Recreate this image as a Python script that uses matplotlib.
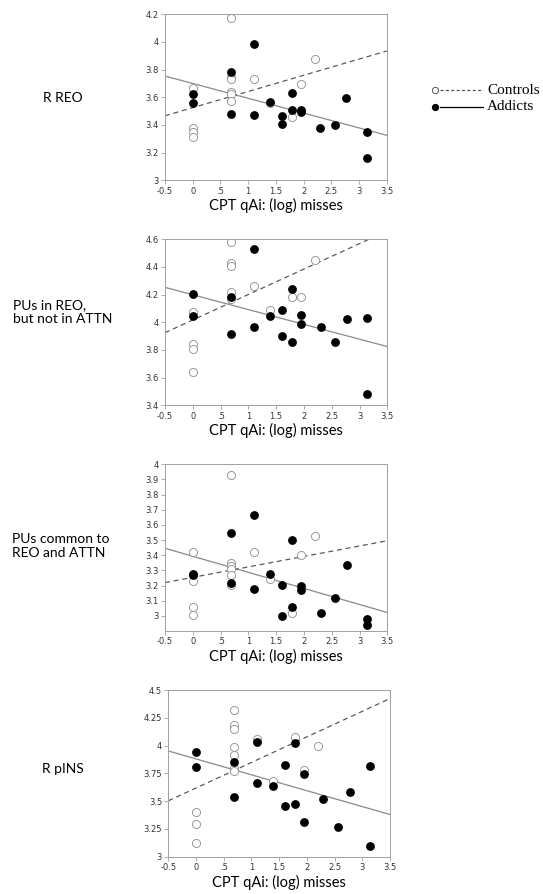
import matplotlib
matplotlib.use("Agg")
import matplotlib.pyplot as plt
from matplotlib.lines import Line2D
import numpy as np

# x values: log number of CPT misses
addicts_x = [0, 0, 0.69, 0.69, 1.10, 1.10, 1.39, 1.61, 1.61, 1.79, 1.79,
             1.95, 1.95, 2.30, 2.56, 2.77, 3.14, 3.14]

# R REO
reo_addicts = [3.627, 3.561, 3.78, 3.48, 3.988, 3.475, 3.566, 3.467, 3.407,
               3.634, 3.508, 3.508, 3.494, 3.378, 3.40, 3.593, 3.347, 3.161]
reo_controls_x = [0, 0, 0, 0, 0.69, 0.69, 0.69, 0.69, 0.69, 0.69,
                  1.10, 1.39, 1.79, 1.95, 2.20]
reo_controls = [3.67, 3.38, 3.35, 3.31, 4.175, 3.745, 3.735, 3.636, 3.625,
                3.576, 3.735, 3.56, 3.46, 3.696, 3.877]

# PUs in REO, but not in ATTN
pu_reo_addicts = [4.202, 4.043, 4.181, 3.916, 4.53, 3.969, 4.048, 4.089, 3.901,
                  4.243, 3.855, 4.053, 3.988, 3.969, 3.855, 4.022, 4.029, 3.482]
pu_reo_controls_x = [0, 0, 0, 0, 0.69, 0.69, 0.69, 0.69, 0.69,
                     1.10, 1.39, 1.79, 1.95, 2.20]
pu_reo_controls = [4.077, 3.843, 3.807, 3.643, 4.583, 4.431, 4.41, 4.217, 4.17,
                   4.263, 4.089, 4.183, 4.183, 4.45]

# PUs common to REO and ATTN
pu_common_addicts = [3.279, 3.27, 3.547, 3.218, 3.664, 3.176, 3.273, 3.204, 2.998,
                     3.499, 3.059, 3.20, 3.169, 3.022, 3.121, 3.334, 2.976, 2.938]
pu_common_controls_x = [0, 0, 0, 0, 0.69, 0.69, 0.69, 0.69, 0.69, 0.69,
                        1.10, 1.39, 1.79, 1.95, 2.20]
pu_common_controls = [3.42, 3.231, 3.059, 3.007, 3.93, 3.347, 3.33, 3.312, 3.268,
                      3.204, 3.42, 3.242, 3.022, 3.402, 3.527]

# R pINS
pins_addicts = [3.943, 3.804, 3.852, 3.536, 4.03, 3.66, 3.636, 3.822, 3.452,
                4.027, 3.47, 3.744, 3.313, 3.521, 3.268, 3.578, 3.813, 3.093]
pins_controls_x = [0, 0, 0, 0.69, 0.69, 0.69, 0.69, 0.69, 0.69, 0.69,
                   1.10, 1.39, 1.79, 1.95, 2.20]
pins_controls = [3.398, 3.295, 3.127, 4.322, 4.181, 4.151, 3.988, 3.913, 3.798,
                 3.768, 4.06, 3.684, 4.078, 3.78, 3.994]

# regression lines: (intercept, slope)
fit_controls = [(3.525, 0.117), (4.017, 0.184), (3.254, 0.069), (3.618, 0.230)]
fit_addicts = [(3.700, -0.107), (4.199, -0.107), (3.393, -0.106), (3.880, -0.143)]

row_labels = ["R REO", "PUs in REO,\nbut not in ATTN",
              "PUs common to\nREO and ATTN", "R pINS"]
y_ticks = [[3, 3.2, 3.4, 3.6, 3.8, 4, 4.2],
           [3.4, 3.6, 3.8, 4, 4.2, 4.4, 4.6],
           [3, 3.1, 3.2, 3.3, 3.4, 3.5, 3.6, 3.7, 3.8, 3.9, 4],
           [3, 3.25, 3.5, 3.75, 4, 4.25, 4.5]]
y_tick_labels = [["3", "3.2", "3.4", "3.6", "3.8", "4", "4.2"],
                 ["3.4", "3.6", "3.8", "4", "4.2", "4.4", "4.6"],
                 ["3", "3.1", "3.2", "3.3", "3.4", "3.5", "3.6", "3.7", "3.8", "3.9", "4"],
                 ["3", "3.25", "3.5", "3.75", "4", "4.25", "4.5"]]
y_limits = [(3, 4.2), (3.4, 4.6), (2.9, 4.0), (3, 4.5)]
x_ticks = [-0.5, 0, 0.5, 1, 1.5, 2, 2.5, 3, 3.5]
x_tick_labels = ["-0.5", "0", ".5", "1", "1.5", "2", "2.5", "3", "3.5"]

controls_x = [reo_controls_x, pu_reo_controls_x, pu_common_controls_x, pins_controls_x]
controls_y = [reo_controls, pu_reo_controls, pu_common_controls, pins_controls]
addicts_y = [reo_addicts, pu_reo_addicts, pu_common_addicts, pins_addicts]

W, H = 543, 894
fig = plt.figure(figsize=(W / 100, H / 100), dpi=100)

# axes boxes in pixels: left, top, right, bottom
boxes = [(165, 14.3, 386.7, 180.3),
         (165, 239.3, 387.3, 405.3),
         (165, 464.3, 387.3, 631.0),
         (168.3, 690.0, 390.0, 856.7)]
label_pos = [(63, 98, "center"), (13, 312, "left"), (12, 546, "left"), (63, 769, "center")]

spine_col = "#a0a0a0"
for i in range(4):
    l, t, r, b = boxes[i]
    ax = fig.add_axes([l / W, 1 - b / H, (r - l) / W, (b - t) / H])
    xx = np.array([-0.5, 3.5])
    c0, c1 = fit_controls[i]
    a0, a1 = fit_addicts[i]
    ax.plot(xx, a0 + a1 * xx, color="#8a8a8a", lw=0.9, zorder=1)
    ax.plot(xx, c0 + c1 * xx, color="#5a5a5a", lw=0.9, ls=(0, (4, 3)), zorder=1)
    ax.scatter(controls_x[i], controls_y[i], s=34, facecolor="white",
               edgecolor="#9a9a9a", linewidth=0.7, zorder=2)
    ax.scatter(addicts_x, addicts_y[i], s=40, color="black", linewidth=0, zorder=3)

    ax.set_xlim(-0.5, 3.5)
    ax.set_ylim(*y_limits[i])
    ax.set_xticks(x_ticks)
    ax.set_xticklabels(x_tick_labels)
    ax.set_yticks(y_ticks[i])
    ax.set_yticklabels(y_tick_labels[i])
    ax.tick_params(length=3, width=0.6, color=spine_col, labelcolor="#333333",
                   labelsize=6, pad=1.5)
    for s in ax.spines.values():
        s.set_color(spine_col)
        s.set_linewidth(0.7)
    ax.set_xlabel("CPT qAi: (log) misses", family="Lato", fontsize=10.5, labelpad=2)

    lx, ly, ha = label_pos[i]
    fig.text(lx / W, 1 - ly / H, row_labels[i], family="Lato", fontsize=10,
             ha=ha, va="center", linespacing=1.15)

# legend drawn by hand (marker at left of the line sample)
leg_items = [("Controls", "white", "#555555", (0, (2.5, 1.8))),
             ("Addicts", "black", "black", "-")]
for k, (name, face, lcol, ls) in enumerate(leg_items):
    yy = 1 - (90 + 17 * k) / H
    fig.add_artist(Line2D([440 / W, 483 / W], [yy, yy], color=lcol, lw=0.9, ls=ls))
    fig.add_artist(Line2D([435 / W], [yy], marker="o", ms=4.5, mfc=face,
                          mec="#555555" if face == "white" else "black", mew=0.7))
    fig.text(487 / W, yy, name, family="Liberation Serif", fontsize=11, va="center")

fig.savefig("out.png", dpi=100)
